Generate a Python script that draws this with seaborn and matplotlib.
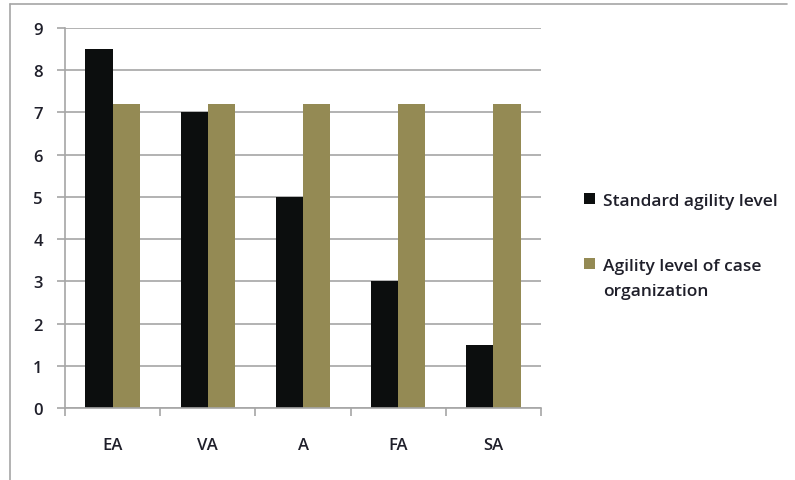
import numpy as np
import pandas as pd
import matplotlib
matplotlib.use("Agg")
import matplotlib.pyplot as plt
import seaborn as sns
from matplotlib.lines import Line2D
from matplotlib.patches import Patch

categories = ["EA", "VA", "A", "FA", "SA"]
standard_level = [8.5, 7.0, 5.0, 3.0, 1.5]
case_level = [7.2, 7.2, 7.2, 7.2, 7.2]
series_names = ["Standard agility level", "Agility level of case organization"]
colors = ["#0c0e0e", "#948a54"]

df = pd.DataFrame({
    "category": categories * 2,
    "value": standard_level + case_level,
    "series": [series_names[0]] * 5 + [series_names[1]] * 5,
})

sns.set_theme(style="white")
plt.rcParams["font.family"] = ["Open Sans", "DejaVu Sans"]

fig = plt.figure(figsize=(7.95, 4.81), dpi=100)
W, H = 795, 481
ax = fig.add_axes([65 / W, (H - 409) / H, 476 / W, 380 / H])

sns.barplot(data=df, x="category", y="value", hue="series", palette=colors,
            width=0.57, saturation=1, ax=ax, legend=False,
            edgecolor="none", linewidth=0)

ax.set_ylim(0, 9)
ax.set_xlim(-0.5, 4.5)
ax.set_yticks(range(10))
ax.yaxis.grid(True, color="#a6a6a6", linewidth=1.2)
ax.set_axisbelow(True)
ax.set_xlabel("")
ax.set_ylabel("")

for s in ["top", "right"]:
    ax.spines[s].set_visible(False)
for s in ["left", "bottom"]:
    ax.spines[s].set_color("#a6a6a6")
    ax.spines[s].set_linewidth(1.2)

ax.tick_params(axis="y", length=6, width=1.2, color="#a6a6a6", direction="out",
               left=True, labelsize=12, pad=10, labelcolor="#1f1f2a")
ax.set_xticks(np.arange(-0.5, 5, 1), minor=True)
ax.tick_params(axis="x", which="minor", length=6, width=1.2, color="#a6a6a6",
               direction="out", bottom=True)
ax.tick_params(axis="x", which="major", length=0, labelsize=12, pad=21,
               labelcolor="#1f1f2a")
for lbl in ax.get_xticklabels() + ax.get_yticklabels():
    lbl.set_fontweight("semibold")

# legend: marker sits beside the first line of a wrapped label, so each
# series gets its own legend block (wrapped tail is an empty-handle row)
leg_kw = dict(loc="upper left", frameon=False,
              prop={"size": 12.5, "weight": "semibold"},
              handlelength=0.65, handleheight=0.65, handletextpad=0.45,
              borderpad=0, labelspacing=0.55)
blank = Patch(facecolor="none", edgecolor="none")
leg1 = fig.legend([Patch(facecolor=colors[0], edgecolor="none")],
                  [series_names[0]], bbox_to_anchor=(575 / W, 1 - 185 / H),
                  **leg_kw)
head, tail = series_names[1].rsplit(" ", 1)
leg2 = fig.legend([Patch(facecolor=colors[1], edgecolor="none"), blank],
                  [head, tail], bbox_to_anchor=(575 / W, 1 - 250 / H),
                  **leg_kw)
for leg in (leg1, leg2):
    for t in leg.get_texts():
        t.set_color("#1f1f2a")

# outer chart frame (top and left edges visible)
fig.add_artist(Line2D([10 / W, 787 / W], [1 - 5 / H, 1 - 5 / H],
                      color="#a6a6a6", linewidth=1.2))
fig.add_artist(Line2D([10 / W, 10 / W], [1 - 5 / H, 0],
                      color="#a6a6a6", linewidth=1.2))

fig.savefig("out.png", dpi=100)
